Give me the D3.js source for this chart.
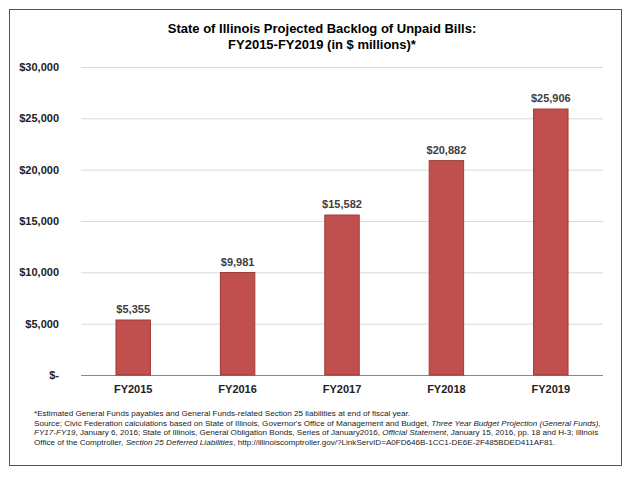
<!DOCTYPE html><html><head><meta charset="utf-8"><script src="https://cdn.jsdelivr.net/npm/d3@7"></script>
<style>body{margin:0;background:#fff;font-family:Arial,"Liberation Sans",sans-serif}</style></head><body>
<svg id="c" width="631" height="487"></svg>
<script>
const categories=["FY2015","FY2016","FY2017","FY2018","FY2019"];
const values=[5355,9981,15582,20882,25906];
const ticks=[0,5000,10000,15000,20000,25000,30000];
const svg=d3.select("#c");
svg.append("rect").attr("x",9.5).attr("y",9.5).attr("width",612).attr("height",456).attr("fill","#fff").attr("stroke","#555");
const x=d3.scaleBand().domain(categories).range([81,603]).paddingInner(0.67).paddingOuter(0.335);
const y=d3.scaleLinear().domain([0,30000]).range([375,67]);
svg.selectAll(".g").data(ticks).join("line").attr("x1",81).attr("x2",603).attr("y1",d=>y(d)+.5).attr("y2",d=>y(d)+.5).attr("stroke",d=>d?"#d9d9d9":"#888");
svg.selectAll(".yl").data(ticks).join("text").attr("x",59).attr("y",d=>y(d)+4).attr("text-anchor","end").attr("font-size",11).attr("font-weight","bold").attr("fill","#222").text(d=>d?"$"+d3.format(",")(d):"$-");
svg.selectAll(".b").data(values).join("rect").attr("x",(d,i)=>x(categories[i])).attr("width",x.bandwidth()).attr("y",d=>y(d)).attr("height",d=>375-y(d)).attr("fill","#C0504D").attr("stroke","#9e3b38");
svg.selectAll(".v").data(values).join("text").attr("x",(d,i)=>x(categories[i])+x.bandwidth()/2).attr("y",d=>y(d)-7).attr("text-anchor","middle").attr("font-size",11).attr("font-weight","bold").attr("fill","#404040").text(d=>"$"+d3.format(",")(d));
svg.selectAll(".xl").data(categories).join("text").attr("x",d=>x(d)+x.bandwidth()/2).attr("y",393).attr("text-anchor","middle").attr("font-size",11).attr("font-weight","bold").attr("fill","#222").text(d=>d);
svg.append("text").attr("x",322).attr("y",33).attr("text-anchor","middle").attr("font-size",13).attr("font-weight","bold").text("State of Illinois Projected Backlog of Unpaid Bills:");
svg.append("text").attr("x",322).attr("y",49).attr("text-anchor","middle").attr("font-size",13).attr("font-weight","bold").text("FY2015-FY2019 (in $ millions)*");
const fn=svg.append("g").attr("font-size",8.1).attr("fill","#222");
const lines=[
[["*Estimated General Funds payables and General Funds-related Section 25 liabilities at end of fiscal year.",0]],
[["Source; Civic Federation calculations based on State of Illinois, Governor's Office of Management and Budget, ",0],["Three Year Budget Projection (General Funds),",1]],
[["FY17-FY19",1],[", January 6, 2016; State of Illinois, General Obligation Bonds, Series of January2016, ",0],["Official Statement",1],[", January 15, 2016, pp. 18 and H-3; Illinois",0]],
[["Office of the Comptroller, ",0],["Section 25 Deferred Liabilities",1],[", http://illinoiscomptroller.gov/?LinkServID=A0FD646B-1CC1-DE6E-2F485BDED411AF81.",0]]];
lines.forEach((l,i)=>{const t=fn.append("text").attr("x",34).attr("y",416+i*9.5);l.forEach(s=>t.append("tspan").attr("font-style",s[1]?"italic":"normal").text(s[0]));});
</script></body></html>
